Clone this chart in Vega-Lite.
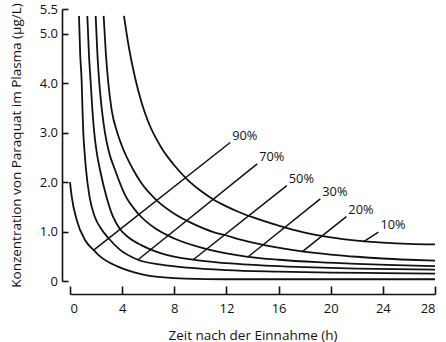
{
  "$schema": "https://vega.github.io/schema/vega-lite/v6.json",
  "width": 365,
  "height": 272,
  "autosize": {"type": "none"},
  "padding": {"left": 70, "top": 9, "right": 11, "bottom": 61},
  "config": {
    "view": {"stroke": null},
    "font": "Open Sans",
    "axis": {
      "grid": false,
      "labelFont": "Open Sans",
      "labelFontSize": 13,
      "labelColor": "#111111",
      "titleFont": "Open Sans",
      "titleFontSize": 13.5,
      "titleFontWeight": "normal",
      "titleColor": "#111111",
      "domainColor": "#111111",
      "tickColor": "#111111",
      "domainWidth": 1.6,
      "tickWidth": 1.6
    }
  },
  "layer": [
    {
      "data": {
        "values": [
          {"curve": "10%", "t": 4.14, "c": 5.36}, {"curve": "10%", "t": 4.5, "c": 4.75}, {"curve": "10%", "t": 5, "c": 4.1}, {"curve": "10%", "t": 5.5, "c": 3.6}, {"curve": "10%", "t": 6, "c": 3.22}, {"curve": "10%", "t": 7, "c": 2.7}, {"curve": "10%", "t": 8, "c": 2.34}, {"curve": "10%", "t": 9, "c": 2.05}, {"curve": "10%", "t": 10, "c": 1.83}, {"curve": "10%", "t": 11, "c": 1.65}, {"curve": "10%", "t": 12, "c": 1.51}, {"curve": "10%", "t": 13, "c": 1.39}, {"curve": "10%", "t": 14, "c": 1.29}, {"curve": "10%", "t": 16, "c": 1.12}, {"curve": "10%", "t": 18, "c": 0.98}, {"curve": "10%", "t": 20, "c": 0.88}, {"curve": "10%", "t": 22, "c": 0.815}, {"curve": "10%", "t": 24, "c": 0.775}, {"curve": "10%", "t": 26, "c": 0.75}, {"curve": "10%", "t": 28, "c": 0.74},
          {"curve": "20%", "t": 2.58, "c": 5.36}, {"curve": "20%", "t": 2.75, "c": 4.6}, {"curve": "20%", "t": 2.94, "c": 4.0}, {"curve": "20%", "t": 3.2, "c": 3.45}, {"curve": "20%", "t": 3.63, "c": 3.0}, {"curve": "20%", "t": 4, "c": 2.72}, {"curve": "20%", "t": 4.85, "c": 2.25}, {"curve": "20%", "t": 5.5, "c": 1.97}, {"curve": "20%", "t": 6.65, "c": 1.63}, {"curve": "20%", "t": 8, "c": 1.36}, {"curve": "20%", "t": 9.5, "c": 1.15}, {"curve": "20%", "t": 11, "c": 0.99}, {"curve": "20%", "t": 12, "c": 0.92}, {"curve": "20%", "t": 13, "c": 0.84}, {"curve": "20%", "t": 15, "c": 0.72}, {"curve": "20%", "t": 17.8, "c": 0.6}, {"curve": "20%", "t": 20, "c": 0.535}, {"curve": "20%", "t": 22, "c": 0.49}, {"curve": "20%", "t": 24, "c": 0.455}, {"curve": "20%", "t": 26, "c": 0.43}, {"curve": "20%", "t": 28, "c": 0.41},
          {"curve": "30%", "t": 1.97, "c": 5.36}, {"curve": "30%", "t": 2.1, "c": 4.6}, {"curve": "30%", "t": 2.25, "c": 4.0}, {"curve": "30%", "t": 2.45, "c": 3.45}, {"curve": "30%", "t": 2.68, "c": 3.0}, {"curve": "30%", "t": 3.0, "c": 2.6}, {"curve": "30%", "t": 3.45, "c": 2.25}, {"curve": "30%", "t": 4.2, "c": 1.75}, {"curve": "30%", "t": 5.24, "c": 1.36}, {"curve": "30%", "t": 6.5, "c": 1.07}, {"curve": "30%", "t": 8, "c": 0.86}, {"curve": "30%", "t": 10, "c": 0.68}, {"curve": "30%", "t": 12, "c": 0.56}, {"curve": "30%", "t": 13.65, "c": 0.49}, {"curve": "30%", "t": 16, "c": 0.43}, {"curve": "30%", "t": 19, "c": 0.38}, {"curve": "30%", "t": 22, "c": 0.345}, {"curve": "30%", "t": 25, "c": 0.32}, {"curve": "30%", "t": 28, "c": 0.3},
          {"curve": "50%", "t": 1.33, "c": 5.36}, {"curve": "50%", "t": 1.45, "c": 4.6}, {"curve": "50%", "t": 1.59, "c": 4.0}, {"curve": "50%", "t": 1.72, "c": 3.45}, {"curve": "50%", "t": 1.86, "c": 3.0}, {"curve": "50%", "t": 2.05, "c": 2.6}, {"curve": "50%", "t": 2.3, "c": 2.25}, {"curve": "50%", "t": 2.8, "c": 1.7}, {"curve": "50%", "t": 3.3, "c": 1.3}, {"curve": "50%", "t": 3.83, "c": 1.05}, {"curve": "50%", "t": 4.5, "c": 0.88}, {"curve": "50%", "t": 5.5, "c": 0.72}, {"curve": "50%", "t": 7, "c": 0.56}, {"curve": "50%", "t": 9.43, "c": 0.43}, {"curve": "50%", "t": 12, "c": 0.36}, {"curve": "50%", "t": 15, "c": 0.31}, {"curve": "50%", "t": 18, "c": 0.28}, {"curve": "50%", "t": 22, "c": 0.25}, {"curve": "50%", "t": 25, "c": 0.24}, {"curve": "50%", "t": 28, "c": 0.23},
          {"curve": "70%", "t": 0.69, "c": 5.36}, {"curve": "70%", "t": 0.78, "c": 4.6}, {"curve": "70%", "t": 0.9, "c": 4.0}, {"curve": "70%", "t": 0.96, "c": 3.45}, {"curve": "70%", "t": 1.02, "c": 3.0}, {"curve": "70%", "t": 1.12, "c": 2.6}, {"curve": "70%", "t": 1.23, "c": 2.25}, {"curve": "70%", "t": 1.5, "c": 1.7}, {"curve": "70%", "t": 1.9, "c": 1.3}, {"curve": "70%", "t": 2.4, "c": 1.05}, {"curve": "70%", "t": 2.94, "c": 0.87}, {"curve": "70%", "t": 3.8, "c": 0.64}, {"curve": "70%", "t": 5.21, "c": 0.43}, {"curve": "70%", "t": 7, "c": 0.33}, {"curve": "70%", "t": 9, "c": 0.27}, {"curve": "70%", "t": 12, "c": 0.22}, {"curve": "70%", "t": 16, "c": 0.19}, {"curve": "70%", "t": 20, "c": 0.17}, {"curve": "70%", "t": 24, "c": 0.16}, {"curve": "70%", "t": 28, "c": 0.15},
          {"curve": "90%", "t": 0, "c": 2.0}, {"curve": "90%", "t": 0.13, "c": 1.71}, {"curve": "90%", "t": 0.51, "c": 1.24}, {"curve": "90%", "t": 1.15, "c": 0.83}, {"curve": "90%", "t": 1.84, "c": 0.62}, {"curve": "90%", "t": 2.17, "c": 0.53}, {"curve": "90%", "t": 3.69, "c": 0.29}, {"curve": "90%", "t": 5, "c": 0.17}, {"curve": "90%", "t": 6, "c": 0.11}, {"curve": "90%", "t": 8.83, "c": 0.05}, {"curve": "90%", "t": 12, "c": 0.035}, {"curve": "90%", "t": 16, "c": 0.035}, {"curve": "90%", "t": 20, "c": 0.035}, {"curve": "90%", "t": 24, "c": 0.035}, {"curve": "90%", "t": 28, "c": 0.035}
        ]
      },
      "mark": {"type": "line", "interpolate": "monotone", "color": "#111111", "strokeWidth": 1.8, "clip": false},
      "encoding": {
        "x": {
          "field": "t", "type": "quantitative",
          "scale": {"domain": [0, 28], "nice": false},
          "axis": {"values": [0, 4, 8, 12, 16, 20, 24, 28], "offset": 13, "tickSize": -8, "labelPadding": 16, "title": "Zeit nach der Einnahme (h)", "titlePadding": 13}
        },
        "y": {
          "field": "c", "type": "quantitative",
          "scale": {"domain": [0, 5.5], "nice": false},
          "axis": {"values": [0, 1, 2, 3, 4, 5, 5.5], "labelExpr": "datum.value == 0 ? '0' : format(datum.value, '.1f')", "offset": 8, "tickSize": -6, "labelPadding": 10.5, "title": "Konzentration von Paraquat im Plasma (µg/L)", "titlePadding": 16}
        },
        "detail": {"field": "curve"}
      }
    },
    {
      "data": {
        "values": [
          {"label": "90%", "t1": 1.84, "c1": 0.63, "t2": 12.29, "c2": 2.8},
          {"label": "70%", "t1": 5.22, "c1": 0.43, "t2": 14.36, "c2": 2.37},
          {"label": "50%", "t1": 9.45, "c1": 0.43, "t2": 16.63, "c2": 1.93},
          {"label": "30%", "t1": 13.67, "c1": 0.49, "t2": 19.2, "c2": 1.66},
          {"label": "20%", "t1": 17.8, "c1": 0.59, "t2": 21.2, "c2": 1.3},
          {"label": "10%", "t1": 22.5, "c1": 0.79, "t2": 23.66, "c2": 0.99}
        ]
      },
      "layer": [
        {
          "mark": {"type": "rule", "color": "#111111", "strokeWidth": 1.5},
          "encoding": {
            "x": {"field": "t1", "type": "quantitative"},
            "y": {"field": "c1", "type": "quantitative"},
            "x2": {"field": "t2"},
            "y2": {"field": "c2"}
          }
        },
        {
          "mark": {"type": "text", "align": "left", "baseline": "middle", "dx": 2, "dy": -7, "font": "Open Sans", "fontSize": 12.8, "color": "#111111"},
          "encoding": {
            "x": {"field": "t2", "type": "quantitative"},
            "y": {"field": "c2", "type": "quantitative"},
            "text": {"field": "label"}
          }
        }
      ]
    },
    {
      "mark": {"type": "text", "align": "left", "baseline": "middle", "font": "Open Sans", "fontSize": 13.1, "color": "#111111"},
      "encoding": {
        "x": {"datum": 5.89},
        "y": {"datum": 4.88},
        "text": {"value": "%-Angabe = Überlebenswahrscheinlichkeit"}
      }
    }
  ]
}
